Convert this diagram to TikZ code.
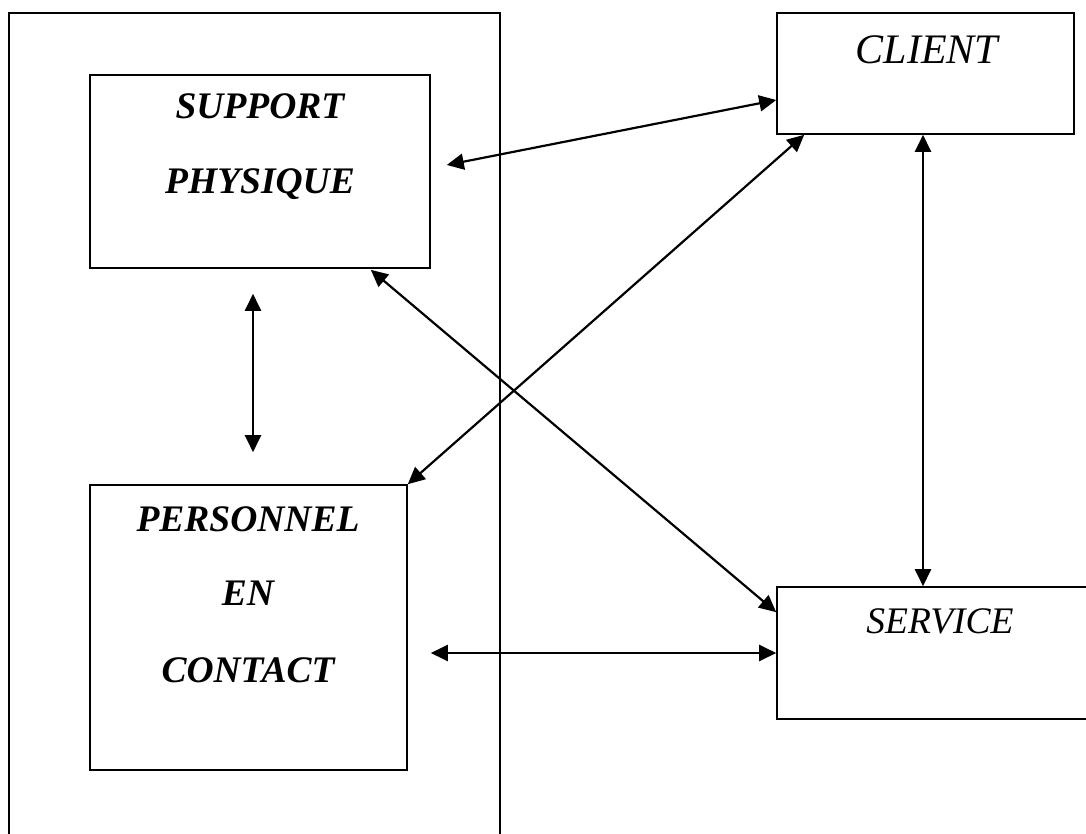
\documentclass[tikz,border=0pt]{standalone}
\usepackage{fontspec}
\setmainfont{Liberation Serif}
\usetikzlibrary{arrows.meta}
\begin{document}
\begin{tikzpicture}[x=1pt,y=-1pt,
  box/.style={draw,line width=1.6pt,rectangle,inner sep=0pt},
  arr/.style={line width=2.2pt,{Triangle[length=17pt,width=16pt]}-{Triangle[length=17pt,width=16pt]}},
  boldlbl/.style={font=\fontsize{37.5}{37.5}\selectfont\bfseries\itshape,inner sep=0pt,anchor=base},
  itlbl/.style={font=\fontsize{37.5}{37.5}\selectfont\itshape,inner sep=0pt,anchor=base}]
\useasboundingbox (0,0) rectangle (1086,834);
\clip (0,0) rectangle (1086,834);
\fill[white] (0,0) rectangle (1086,834);

% enclosing frame of the organisation (runs past the lower edge)
\node[box,minimum width=491pt,minimum height=860pt] (org) at (254.5,443) {};

% boxes
\node[box,minimum width=340pt,minimum height=193pt] (sp) at (260,171.5) {};
\node[box,minimum width=317pt,minimum height=285pt] (pc) at (248.5,627.5) {};
\node[box,minimum width=297pt,minimum height=121pt] (cl) at (925.5,73.5) {};
\node[box,minimum width=333pt,minimum height=132pt] (sv) at (943.5,653) {};

% labels
\node[boldlbl] (t1) at (260,119) {SUPPORT};
\node[boldlbl] (t2) at (260,194) {PHYSIQUE};
\node[boldlbl] (t3) at (248,531) {PERSONNEL};
\node[boldlbl] (t4) at (248,605) {EN};
\node[boldlbl] (t5) at (248,682) {CONTACT};
\node[itlbl,font=\fontsize{42}{42}\selectfont\itshape] (t6) at (927,64) {CLIENT};
\node[itlbl] (t7) at (940,633) {SERVICE};

% free ends of the connectors
\coordinate (spR) at ([shift={(16,-6.5)}]sp.east);
\coordinate (pcR) at ([shift={(23,0)}]pc.east);

% connectors
\draw[arr] (spR) -- ([shift={(0,26.5)}]cl.west);
\draw[arr] (pc.north east) -- ([shift={(28,0)}]cl.south west);
\draw[arr] ([shift={(-60,1)}]sp.south east) -- ([shift={(0,26)}]sv.north west);
\draw[arr] ([shift={(-2.5,0)}]cl.south) -- ([shift={(-2.5,0)}]cl.south |- sv.north);
\draw[arr] (pcR |- sv.west) -- (sv.west);
\draw[arr] ([shift={(-7,25)}]sp.south) -- ([shift={(4.5,-32)}]pc.north);
\end{tikzpicture}
\end{document}
